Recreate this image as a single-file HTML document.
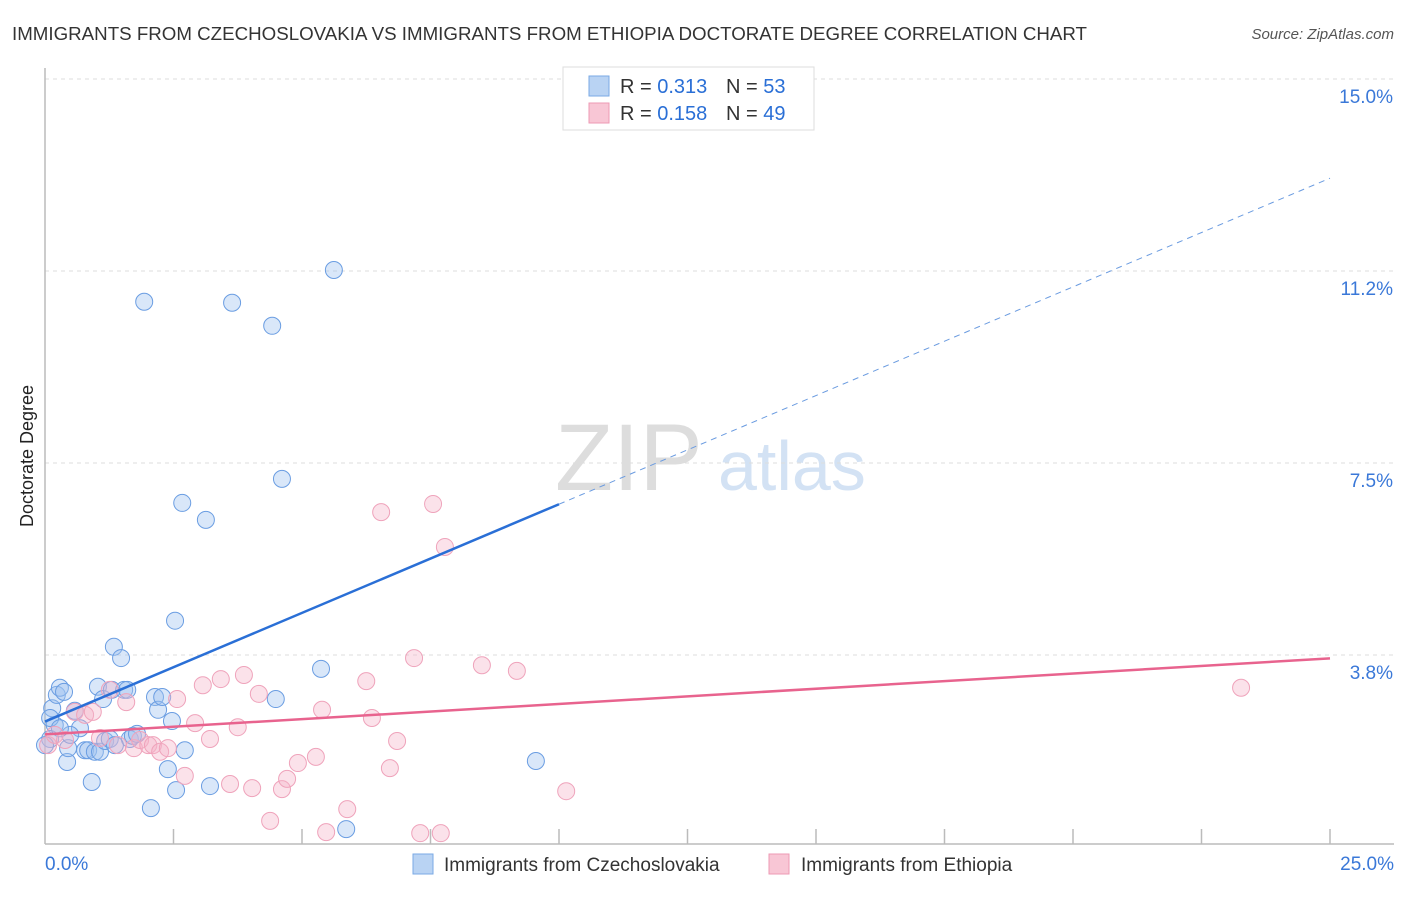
<!DOCTYPE html>
<html><head><meta charset="utf-8"><style>
body{margin:0;background:#fff;font-family:"Liberation Sans",sans-serif;}
svg text{font-family:"Liberation Sans",sans-serif;}
</style></head><body>
<svg id="c" width="1406" height="892">
<text x="12" y="40" font-size="18" fill="#333" textLength="1075" lengthAdjust="spacingAndGlyphs">IMMIGRANTS FROM CZECHOSLOVAKIA VS IMMIGRANTS FROM ETHIOPIA DOCTORATE DEGREE CORRELATION CHART</text>
<text x="1394" y="39" font-size="15" fill="#555" font-style="italic" text-anchor="end">Source: ZipAtlas.com</text>
<text x="0" y="0" transform="translate(33,456) rotate(-90)" font-size="18" fill="#222" text-anchor="middle">Doctorate Degree</text>
<text x="555" y="490" font-size="95" fill="#ddd" font-family="Liberation Serif">ZIP</text>
<text x="718" y="490" font-size="70" fill="#d3e2f4">atlas</text>
<g id="grid"></g><g id="pts"></g><g id="lines"></g>
<g>
<rect x="563" y="67" width="251" height="63" fill="#fff" stroke="#ddd"/>
<rect x="589" y="76" width="20" height="20" fill="#b9d3f3" stroke="#7aa9e5"/>
<rect x="589" y="103" width="20" height="20" fill="#f8c6d5" stroke="#ee9ab4"/>
<text x="620" y="93" font-size="20" fill="#333">R = <tspan fill="#2a6fd6">0.313</tspan></text>
<text x="726" y="93" font-size="20" fill="#333">N = <tspan fill="#2a6fd6">53</tspan></text>
<text x="620" y="120" font-size="20" fill="#333">R = <tspan fill="#2a6fd6">0.158</tspan></text>
<text x="726" y="120" font-size="20" fill="#333">N = <tspan fill="#2a6fd6">49</tspan></text>
</g>
<g>
<rect x="413" y="854" width="20" height="20" fill="#b9d3f3" stroke="#7aa9e5"/>
<text x="444" y="871" font-size="19" fill="#333">Immigrants from Czechoslovakia</text>
<rect x="769" y="854" width="20" height="20" fill="#f8c6d5" stroke="#ee9ab4"/>
<text x="801" y="871" font-size="19" fill="#333">Immigrants from Ethiopia</text>
</g>
</svg>
<script>
const yTicks=[3.8,7.5,11.2,15.0];
const yTickVals=[3.75,7.5,11.25,15];
const xLabels=["0.0%","25.0%"];
const blueX=[0.14,0.23,0.29,0.37,0.19,0.10,0.43,0.45,0.58,0.68,0.78,0.84,0.91,0.97,1.07,1.03,1.13,1.17,1.26,1.30,1.34,1.48,1.54,1.60,1.65,1.71,1.79,1.93,2.06,2.14,2.20,2.28,2.39,2.47,2.53,2.55,2.67,2.72,3.13,3.21,3.64,4.42,4.49,4.61,5.37,5.62,5.86,9.55,0.10,0.49,1.36,0.29,0.0];
const blueY=[2.71,2.97,3.11,3.03,2.38,2.52,1.66,1.93,2.66,2.32,1.89,1.89,1.27,1.86,1.86,3.13,2.89,2.07,2.11,3.07,3.91,3.69,3.07,3.07,2.11,2.17,2.21,10.65,0.76,2.93,2.68,2.93,1.52,2.46,4.42,1.11,6.72,1.89,6.39,1.19,10.63,10.18,2.89,7.19,3.48,11.27,0.35,1.68,2.11,2.19,1.99,2.32,1.99];
const pinkX=[0.06,0.19,0.39,0.58,0.78,0.93,1.07,1.26,1.42,1.58,1.73,1.85,2.01,2.10,2.24,2.39,2.57,2.72,2.92,3.07,3.21,3.42,3.60,3.75,3.87,4.03,4.16,4.38,4.61,4.71,4.92,5.27,5.39,5.47,5.88,6.25,6.36,6.54,6.71,6.85,7.18,7.30,7.55,7.70,7.78,8.50,9.18,10.14,23.27];
const pinkY=[1.99,2.19,2.09,2.64,2.58,2.64,2.13,3.07,1.99,2.83,1.93,2.09,1.99,1.99,1.86,1.93,2.89,1.39,2.42,3.16,2.11,3.28,1.23,2.34,3.36,1.15,2.99,0.51,1.13,1.33,1.64,1.76,2.68,0.29,0.74,3.24,2.52,6.54,1.54,2.07,3.69,0.27,6.70,0.27,5.86,3.55,3.44,1.09,3.11];
const NS="http://www.w3.org/2000/svg";
const X=v=>45+v*51.4, Y=v=>847-v*51.2;
function mk(p,t,a){const e=document.createElementNS(NS,t);for(const k in a)e.setAttribute(k,a[k]);document.getElementById(p).appendChild(e);return e;}
yTickVals.forEach((v,i)=>{
 const l=mk('grid','line',{x1:45,x2:1394,y1:Y(v),y2:Y(v),stroke:'#ddd','stroke-dasharray':'4,4'});
 
 
 const t=mk('grid','text',{x:1393,y:Y(v)+24,'font-size':19,fill:'#3a78d8','text-anchor':'end'});t.textContent=yTicks[i].toFixed(1)+'%';
 
 
});
const ax=mk('grid','line',{x1:45,x2:1394,y1:844,y2:844,stroke:'#bbb','stroke-width':1.5});


const ay=mk('grid','line',{x1:45,x2:45,y1:68,y2:844,stroke:'#bbb','stroke-width':1.5});


for(let i=1;i<=10;i++){const t=mk('grid','line',{x1:X(i*2.5),x2:X(i*2.5),y1:829,y2:844,stroke:'#bbb','stroke-width':1.5});
 
 }
[[X(0),'start',xLabels[0]],[1394,'end',xLabels[1]]].forEach(d=>{const t=mk('grid','text',{x:d[0],y:870,'font-size':19,fill:'#3a78d8','text-anchor':d[1]});t.textContent=d[2];
 
 });
blueX.forEach((v,i)=>{const c=mk('pts','circle',{cx:X(v),cy:Y(blueY[i]),r:8.5,fill:'rgba(160,195,240,0.4)',stroke:'#6a9de2','stroke-width':1});
 
 });
pinkX.forEach((v,i)=>{const c=mk('pts','circle',{cx:X(v),cy:Y(pinkY[i]),r:8.5,fill:'rgba(245,180,200,0.38)',stroke:'#efa3bb','stroke-width':1});
 
 });
const b0=2.45,b1=0.4245,p0=2.2,p1=0.0594;
let l=mk('lines','line',{x1:X(0),y1:Y(b0),x2:X(10),y2:Y(b0+b1*10),stroke:'#2a6fd6','stroke-width':2.5});


l=mk('lines','line',{x1:X(10),y1:Y(b0+b1*10),x2:X(25),y2:Y(b0+b1*25),stroke:'#6a9be0','stroke-width':1,'stroke-dasharray':'6,5'});


l=mk('lines','line',{x1:X(0),y1:Y(p0),x2:X(25),y2:Y(p0+p1*25),stroke:'#e8638e','stroke-width':2.5});


</script>
</body></html>
